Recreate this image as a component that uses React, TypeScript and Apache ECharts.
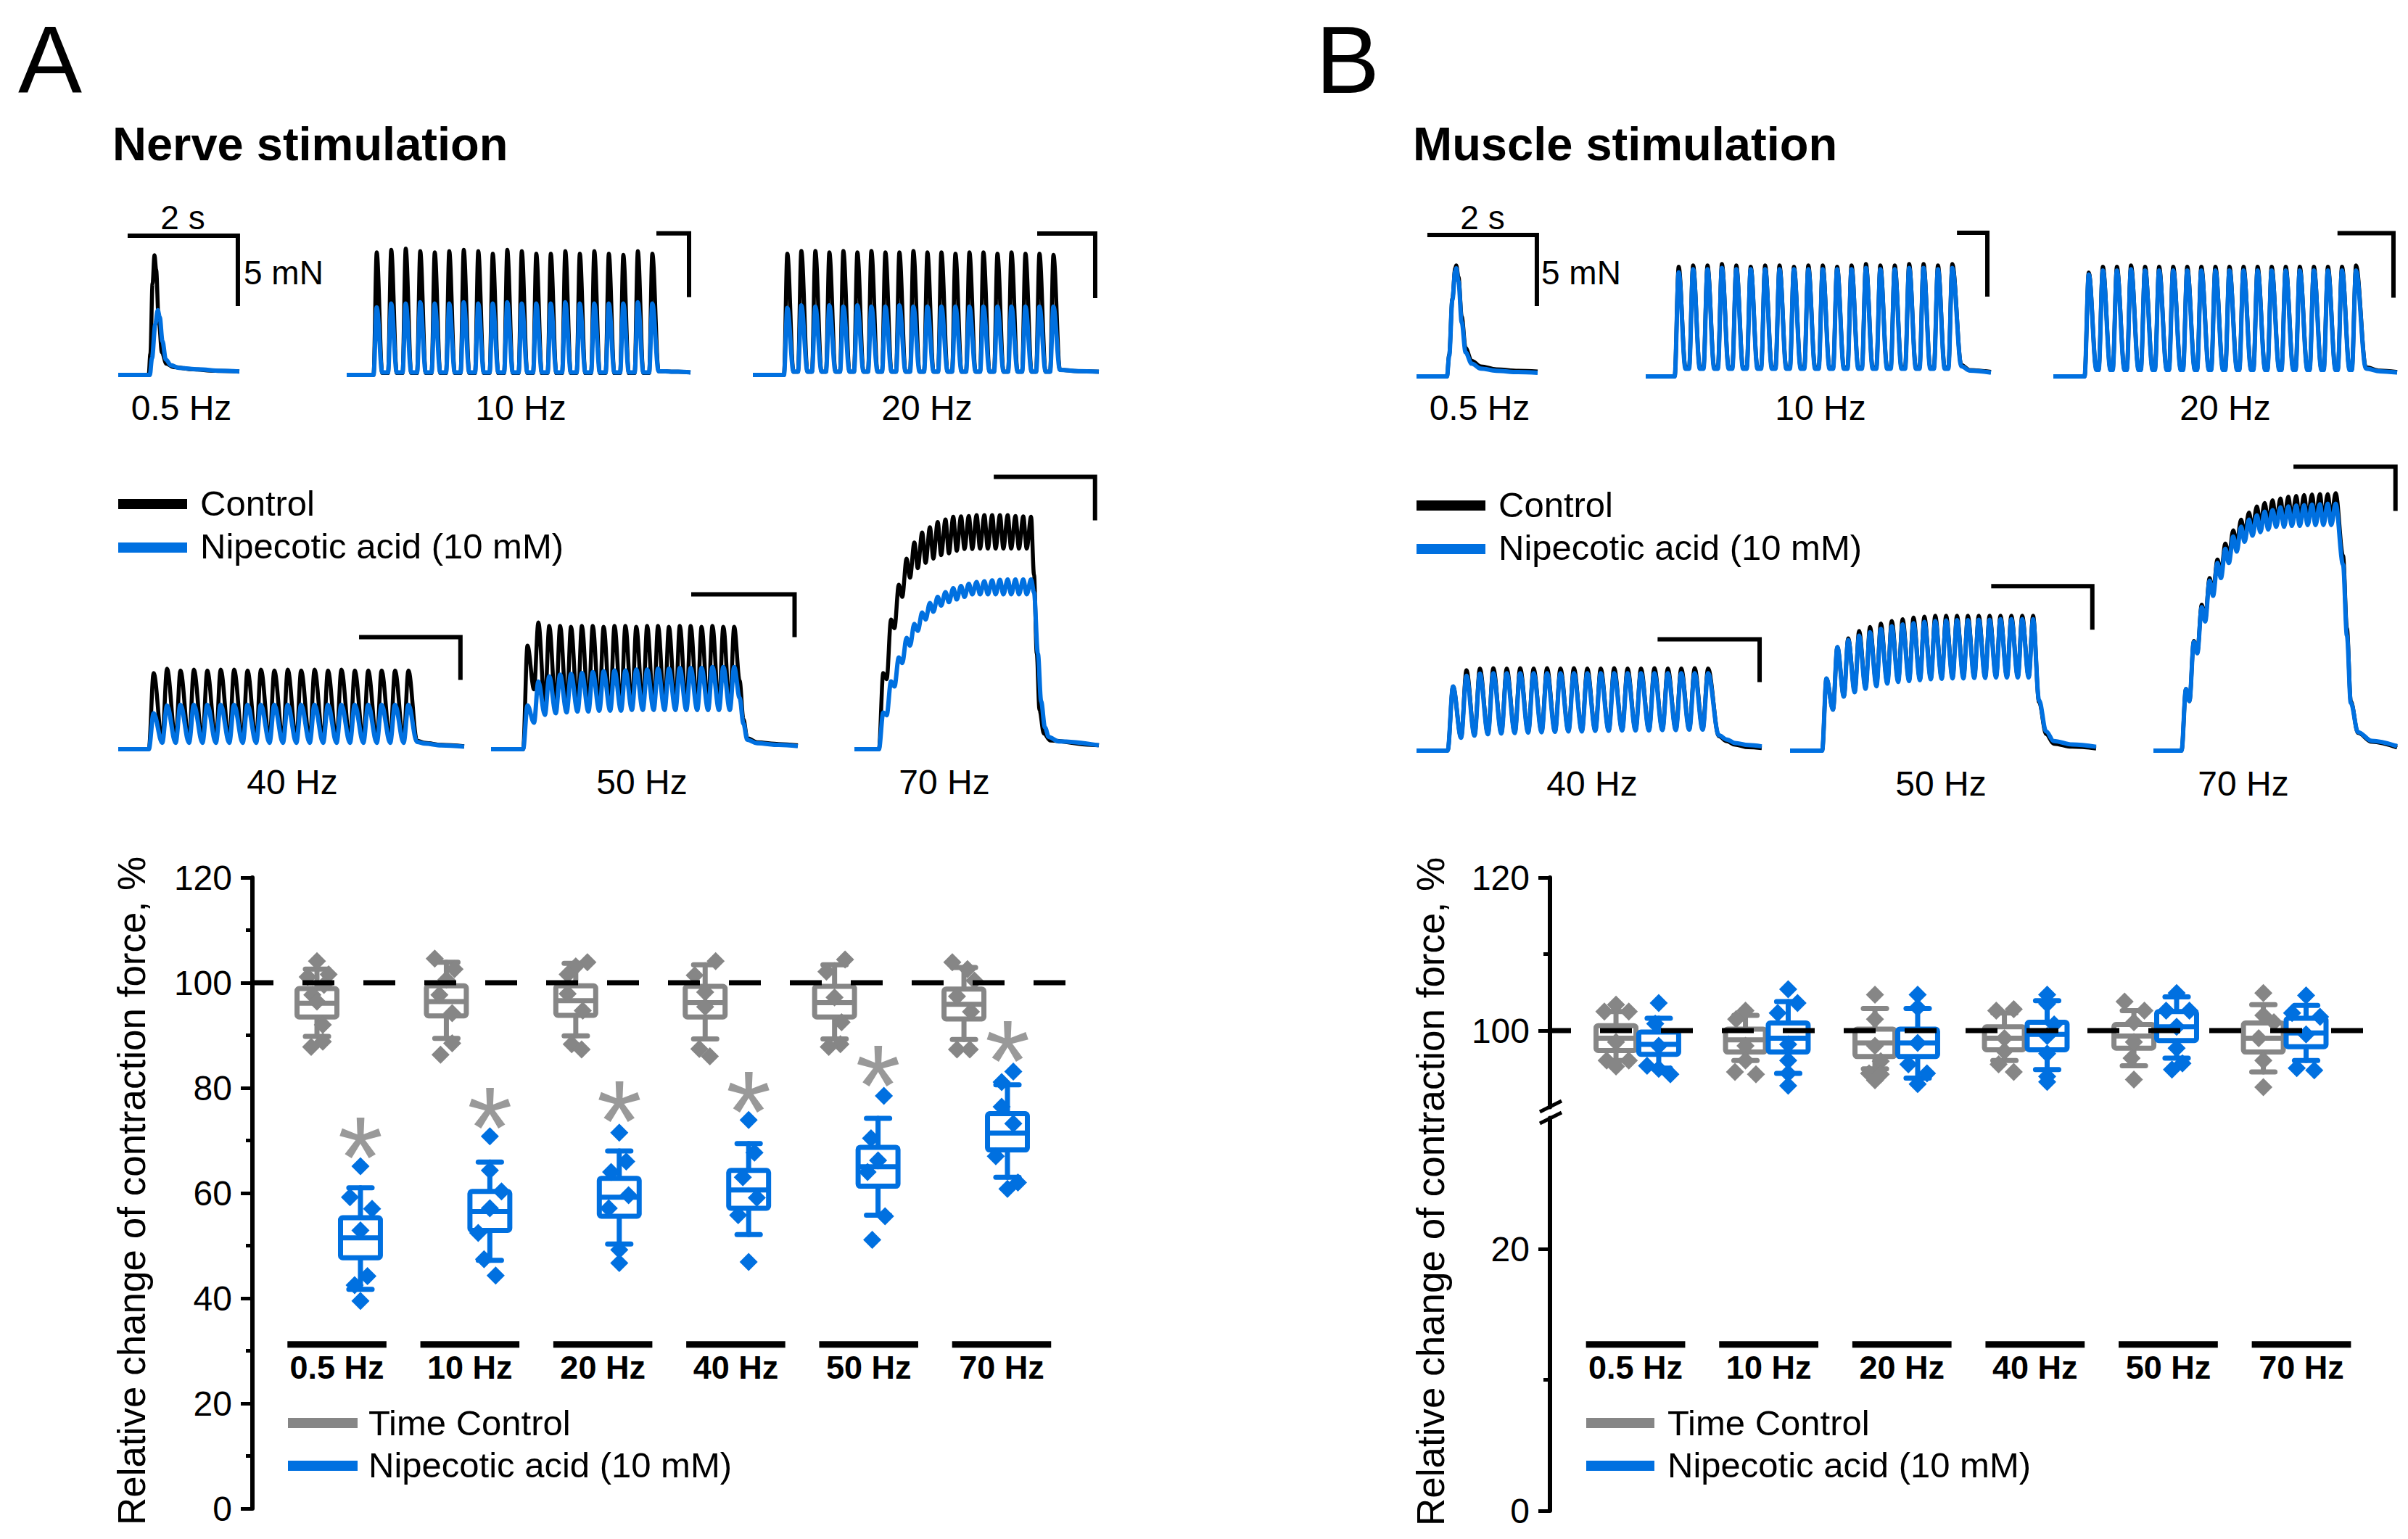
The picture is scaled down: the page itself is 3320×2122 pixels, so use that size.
import React, { useEffect, useRef } from 'react';
import * as echarts from 'echarts';

const FONT = '"Liberation Sans", Arial, Helvetica, sans-serif';
const BLACK = '#000000';
const GRAY = '#868686';
const BLUE = '#0070e0';

// ---------------- categories ----------------
const FREQS = ['0.5 Hz', '10 Hz', '20 Hz', '40 Hz', '50 Hz', '70 Hz'];
const SCALE_MN = 5; // vertical scale bar (mN)

// ---------------- Panel A traces (nerve stimulation) ----------------
// single twitch: [time ms, force mN]
const A05_CTRL = [[-553, 0], [0, 0], [30, 1.5], [70, 6.5], [105, 8.5], [135, 7.5], [180, 4.0], [240, 1.6], [320, 0.8], [450, 0.55], [800, 0.4], [1200, 0.3], [1645, 0.25]];
const A05_NIPE = [[-553, 0], [20, 0], [60, 1.2], [120, 3.6], [165, 4.6], [200, 4.1], [250, 2.4], [310, 1.1], [400, 0.7], [550, 0.5], [900, 0.4], [1300, 0.3], [1645, 0.25]];
const A05_BAR = [-382, 1618, 9.9];

// trains: kinetics [interval ms, time to peak ms, relax ms], per-pulse peaks / levels at stimulus
const A10_KIN = [100, 22, 60];
const A10_CTRL_PK = [9.6, 9.8, 9.9, 9.7, 9.6, 9.7, 9.8, 9.7, 9.5, 9.8, 9.7, 9.5, 9.5, 9.7, 9.5, 9.7, 9.5, 9.4, 9.7, 9.5];
const A10_CTRL_TR = [0, 0.15, 0.15, 0.15, 0.15, 0.15, 0.15, 0.15, 0.15, 0.15, 0.15, 0.15, 0.15, 0.15, 0.15, 0.15, 0.15, 0.15, 0.15, 0.15];
const A10_NIPE_PK = [5.3, 5.6, 5.6, 5.7, 5.6, 5.6, 5.7, 5.6, 5.6, 5.7, 5.6, 5.6, 5.6, 5.7, 5.6, 5.6, 5.6, 5.6, 5.7, 5.6];
const A10_NIPE_TR = [0, 0.2, 0.2, 0.2, 0.2, 0.2, 0.2, 0.2, 0.2, 0.2, 0.2, 0.2, 0.2, 0.2, 0.2, 0.2, 0.2, 0.2, 0.2, 0.2];
const A10_CTRL_END = [[1965, 0.3], [2100, 0.25], [2185, 0.2]];
const A10_NIPE_END = [[1965, 0.3], [2100, 0.25], [2185, 0.2]];
const A10_BAR = [1950, 2175, 11.1];

const A20_KIN = [50, 12, 34];
const A20_CTRL_PK = [9.4, 9.6, 9.6, 9.5, 9.6, 9.5, 9.6, 9.5, 9.5, 9.6, 9.5, 9.5, 9.4, 9.5, 9.5, 9.4, 9.5, 9.4, 9.4, 9.3];
const A20_CTRL_TR = [0, 0.25, 0.25, 0.25, 0.25, 0.25, 0.25, 0.25, 0.25, 0.25, 0.25, 0.25, 0.25, 0.25, 0.25, 0.25, 0.25, 0.25, 0.25, 0.25];
const A20_NIPE_PK = [5.2, 5.4, 5.3, 5.4, 5.3, 5.4, 5.3, 5.3, 5.4, 5.3, 5.3, 5.3, 5.3, 5.3, 5.3, 5.3, 5.3, 5.3, 5.3, 5.3];
const A20_NIPE_TR = [0, 0.25, 0.25, 0.25, 0.25, 0.25, 0.25, 0.25, 0.25, 0.25, 0.25, 0.25, 0.25, 0.25, 0.25, 0.25, 0.25, 0.25, 0.25, 0.25];
const A20_CTRL_END = [[985, 0.4], [1050, 0.3], [1124, 0.25]];
const A20_NIPE_END = [[985, 0.4], [1050, 0.3], [1124, 0.25]];
const A20_BAR = [904, 1111, 10.95];

const A40_KIN = [25, 9, 0];
const A40_CTRL_PK = [8.9, 9.4, 9.2, 9.3, 9.2, 9.3, 9.3, 9.2, 9.3, 9.2, 9.3, 9.2, 9.3, 9.2, 9.3, 9.2, 9.2, 9.2, 9.2, 9.2];
const A40_CTRL_TR = [0, 0.9, 0.9, 0.9, 0.9, 0.9, 0.9, 0.9, 0.9, 0.9, 0.9, 0.9, 0.9, 0.9, 0.9, 0.9, 0.9, 0.9, 0.9, 0.9];
const A40_NIPE_PK = [4.2, 5.1, 5.2, 5.2, 5.2, 5.2, 5.2, 5.2, 5.2, 5.2, 5.2, 5.2, 5.2, 5.2, 5.2, 5.2, 5.2, 5.2, 5.2, 5.2];
const A40_NIPE_TR = [0, 0.75, 0.75, 0.75, 0.75, 0.75, 0.75, 0.75, 0.75, 0.75, 0.75, 0.75, 0.75, 0.75, 0.75, 0.75, 0.75, 0.75, 0.75, 0.75];
const A40_CTRL_END = [[500, 1.0], [515, 0.75], [545, 0.5], [588, 0.35]];
const A40_NIPE_END = [[500, 0.85], [515, 0.65], [545, 0.45], [588, 0.3]];
const A40_BAR = [392, 581, 13.1];

const A50_KIN = [20, 8, 0];
const A50_CTRL_PK = [12.1, 14.8, 14.4, 14.4, 14.3, 14.4, 14.4, 14.3, 14.4, 14.4, 14.3, 14.4, 14.4, 14.3, 14.4, 14.4, 14.3, 14.4, 14.3, 14.3];
const A50_CTRL_TR = [0, 7.0, 4.9, 4.7, 4.6, 4.6, 4.6, 4.6, 4.6, 4.6, 4.6, 4.6, 4.6, 4.6, 4.6, 4.6, 4.6, 4.6, 4.6, 4.6];
const A50_NIPE_PK = [5.1, 7.9, 8.5, 8.7, 8.8, 8.9, 9.0, 9.1, 9.2, 9.2, 9.3, 9.3, 9.4, 9.4, 9.5, 9.5, 9.5, 9.6, 9.6, 9.6];
const A50_NIPE_TR = [0, 3.1, 4.0, 4.2, 4.3, 4.4, 4.4, 4.5, 4.5, 4.5, 4.6, 4.6, 4.6, 4.6, 4.6, 4.6, 4.6, 4.6, 4.6, 4.6];
const A50_CTRL_END = [[398, 8], [405, 3.5], [412, 1.3], [430, 0.8], [470, 0.6], [505, 0.45]];
const A50_NIPE_END = [[398, 6], [405, 3], [412, 1.1], [430, 0.7], [470, 0.5], [505, 0.35]];
const A50_BAR = [309, 499, 18.1];

const A70_KIN = [14.29, 8, 0];
const A70_CTRL_PK = [8.75, 14.9, 18.9, 21.9, 23.75, 24.9, 25.5, 26.1, 26.4, 26.7, 26.75, 26.8, 26.9, 26.9, 26.9, 26.9, 26.9, 26.8, 26.75, 26.7];
const A70_CTRL_TR = [0, 8.05, 13.9, 17.5, 19.7, 20.8, 21.4, 21.9, 22.3, 22.5, 22.8, 23.0, 23.0, 23.05, 23.05, 23.05, 23.05, 23.05, 23.05, 23.05];
const A70_NIPE_PK = [4.2, 7.8, 10.55, 12.8, 14.4, 15.7, 16.8, 17.5, 18.05, 18.5, 18.75, 19.0, 19.2, 19.3, 19.4, 19.45, 19.5, 19.5, 19.5, 19.5];
const A70_NIPE_TR = [0, 3.9, 7.2, 9.9, 11.9, 13.6, 14.9, 15.8, 16.5, 16.9, 17.2, 17.5, 17.8, 17.8, 17.8, 17.8, 17.8, 17.8, 17.8, 17.8];
const A70_CTRL_END = [[285, 20], [290, 11], [295, 4.5], [303, 1.8], [315, 1.0], [390, 0.5], [404, 0.45]];
const A70_NIPE_END = [[285, 18], [292, 11], [298, 5.5], [305, 2.5], [312, 1.4], [330, 0.9], [404, 0.45]];
const A70_BAR = [211, 397, 31.3];

// ---------------- Panel B traces (muscle stimulation) ----------------
const B05_CTRL = [[-556, 0], [0, 0], [40, 1.5], [100, 5.5], [150, 7.6], [170, 7.8], [210, 7.0], [270, 4.2], [340, 2.0], [450, 1.1], [620, 0.7], [900, 0.5], [1300, 0.4], [1656, 0.35]];
const B05_NIPE = [[-556, 0], [0, 0], [40, 1.4], [100, 5.4], [150, 7.4], [170, 7.6], [210, 6.7], [270, 3.8], [340, 1.7], [450, 0.9], [620, 0.55], [900, 0.4], [1300, 0.3], [1656, 0.25]];
const B05_BAR = [-358, 1642, 9.95];

const B10_KIN = [100, 28, 75];
const B10_CTRL_PK = [8.6, 8.7, 8.7, 8.8, 8.7, 8.6, 8.7, 8.7, 8.6, 8.7, 8.7, 8.6, 8.7, 8.8, 8.7, 8.7, 8.8, 8.8, 8.7, 8.8];
const B10_CTRL_TR = [0, 0.7, 0.7, 0.7, 0.7, 0.7, 0.7, 0.7, 0.7, 0.7, 0.7, 0.7, 0.7, 0.7, 0.7, 0.7, 0.7, 0.7, 0.7, 0.7];
const B10_NIPE_PK = [8.15, 8.4, 8.4, 8.5, 8.4, 8.4, 8.4, 8.4, 8.4, 8.4, 8.4, 8.4, 8.4, 8.5, 8.4, 8.4, 8.5, 8.5, 8.4, 8.5];
const B10_NIPE_TR = [0, 0.6, 0.6, 0.6, 0.6, 0.6, 0.6, 0.6, 0.6, 0.6, 0.6, 0.6, 0.6, 0.6, 0.6, 0.6, 0.6, 0.6, 0.6, 0.6];
const B10_CTRL_END = [[1990, 0.9], [2050, 0.5], [2196, 0.35]];
const B10_NIPE_END = [[1990, 0.8], [2050, 0.45], [2196, 0.3]];
const B10_BAR = [1960, 2171, 11.25];

const B20_KIN = [50, 15, 42];
const B20_CTRL_PK = [8.05, 8.5, 8.5, 8.6, 8.5, 8.5, 8.5, 8.5, 8.5, 8.5, 8.5, 8.5, 8.5, 8.5, 8.5, 8.5, 8.5, 8.5, 8.5, 8.6];
const B20_CTRL_TR = [0, 0.55, 0.55, 0.55, 0.55, 0.55, 0.55, 0.55, 0.55, 0.55, 0.55, 0.55, 0.55, 0.55, 0.55, 0.55, 0.55, 0.55, 0.55, 0.55];
const B20_NIPE_PK = [7.9, 8.2, 8.2, 8.3, 8.2, 8.2, 8.2, 8.2, 8.2, 8.2, 8.2, 8.2, 8.2, 8.2, 8.2, 8.2, 8.2, 8.2, 8.2, 8.2];
const B20_NIPE_TR = [0, 0.5, 0.5, 0.5, 0.5, 0.5, 0.5, 0.5, 0.5, 0.5, 0.5, 0.5, 0.5, 0.5, 0.5, 0.5, 0.5, 0.5, 0.5, 0.5];
const B20_CTRL_END = [[1000, 0.7], [1050, 0.45], [1111, 0.35]];
const B20_NIPE_END = [[1000, 0.6], [1050, 0.4], [1111, 0.3]];
const B20_BAR = [899, 1098, 11.1];

const B40_KIN = [25, 10, 0];
const B40_CTRL_PK = [7.5, 9.4, 9.6, 9.65, 9.6, 9.65, 9.6, 9.65, 9.6, 9.65, 9.6, 9.6, 9.65, 9.6, 9.6, 9.65, 9.6, 9.6, 9.65, 9.6];
const B40_CTRL_TR = [0, 1.55, 1.8, 1.95, 2.05, 2.1, 2.15, 2.2, 2.25, 2.3, 2.3, 2.35, 2.35, 2.4, 2.4, 2.4, 2.45, 2.45, 2.5, 2.5];
const B40_NIPE_PK = [7.5, 8.75, 9.0, 9.05, 9.05, 9.05, 9.05, 9.05, 9.05, 9.05, 9.05, 9.05, 9.05, 9.05, 9.05, 9.05, 9.05, 9.05, 9.05, 9.05];
const B40_NIPE_TR = [0, 1.5, 1.75, 1.9, 2.0, 2.05, 2.1, 2.15, 2.2, 2.25, 2.25, 2.3, 2.3, 2.35, 2.35, 2.35, 2.4, 2.4, 2.45, 2.45];
const B40_CTRL_END = [[505, 1.7], [520, 1.1], [535, 0.7], [560, 0.4], [585, 0.3]];
const B40_NIPE_END = [[505, 1.8], [520, 1.3], [535, 0.9], [560, 0.65], [585, 0.5]];
const B40_BAR = [391, 581, 13.0];

const B50_KIN = [20, 8, 0];
const B50_CTRL_PK = [8.3, 11.9, 12.9, 13.75, 14.2, 14.6, 14.9, 15.1, 15.3, 15.4, 15.5, 15.5, 15.5, 15.5, 15.5, 15.5, 15.5, 15.5, 15.5, 15.5];
const B50_CTRL_TR = [0, 4.7, 6.25, 6.8, 7.2, 7.5, 7.8, 8.0, 8.1, 8.2, 8.3, 8.35, 8.4, 8.4, 8.45, 8.45, 8.5, 8.5, 8.5, 8.5];
const B50_NIPE_PK = [8.3, 11.9, 12.7, 13.2, 13.6, 14.0, 14.3, 14.5, 14.65, 14.8, 14.9, 14.95, 15.0, 15.0, 15.05, 15.05, 15.1, 15.1, 15.1, 15.1];
const B50_NIPE_TR = [0, 4.7, 6.2, 6.7, 7.1, 7.4, 7.7, 7.9, 8.0, 8.1, 8.2, 8.25, 8.3, 8.3, 8.35, 8.35, 8.4, 8.4, 8.4, 8.4];
const B50_CTRL_END = [[399, 5.6], [412, 1.9], [426, 0.8], [460, 0.45], [504, 0.25]];
const B50_NIPE_END = [[399, 5.8], [412, 2.2], [426, 1.1], [460, 0.7], [504, 0.45]];
const B50_BAR = [311, 497, 18.9];

const B70_KIN = [14.29, 8, 0];
const B70_CTRL_PK = [6.97, 12.4, 16.5, 19.5, 21.6, 23.4, 24.9, 26.1, 26.9, 27.6, 28.0, 28.3, 28.5, 28.7, 28.8, 28.9, 28.96, 29.0, 29.0, 29.1];
const B70_CTRL_TR = [0, 5.6, 11.1, 14.9, 17.9, 20.1, 22.0, 23.4, 24.5, 25.1, 25.6, 25.8, 25.9, 26.0, 26.1, 26.1, 26.2, 26.2, 26.2, 26.3];
const B70_NIPE_PK = [6.97, 12.3, 16.2, 19.2, 21.2, 22.8, 24.2, 25.3, 26.1, 26.6, 27.0, 27.2, 27.5, 27.6, 27.7, 27.75, 27.8, 27.85, 27.9, 27.9];
const B70_NIPE_TR = [0, 5.6, 11.0, 14.6, 17.5, 19.5, 21.2, 22.5, 23.6, 24.3, 24.7, 25.0, 25.3, 25.3, 25.4, 25.4, 25.5, 25.5, 25.5, 25.5];
const B70_CTRL_END = [[293, 22], [300, 13.8], [307, 5.6], [320, 2.0], [345, 1.0], [391, 0.35]];
const B70_NIPE_END = [[293, 21], [300, 13], [307, 5.4], [320, 2.1], [345, 1.1], [391, 0.5]];
const B70_BAR = [203, 388, 32.1];

// ---------------- Box plot data: [lower whisker, Q1, median, Q3, upper whisker] ----------------
const A_TC_STATS = [[89.8, 93.5, 96.1, 98.9, 102.6], [89.4, 93.7, 96.4, 99.4, 103.9], [89.9, 93.8, 96.6, 99.4, 103.7], [89.3, 93.5, 96.2, 99.3, 103.4], [89.3, 93.5, 96.2, 99.3, 103.4], [89.2, 93.1, 95.9, 98.8, 102.9]];
const A_NA_STATS = [[41.7, 47.7, 51.5, 55.3, 61.0], [47.2, 52.9, 56.5, 60.3, 65.9], [50.3, 55.6, 59.2, 62.8, 68.0], [52.1, 57.1, 60.6, 64.3, 69.4], [55.8, 61.3, 65.0, 68.7, 74.2], [63.0, 68.2, 71.4, 75.1, 80.6]];
// individual values: [value, swarm column]
const A_TC_PTS = [
  [[104.1, 0], [101.6, 1], [101.1, -0.8], [99.6, 0.6], [97.7, -0.4], [96.4, 0], [92.0, 0.5], [88.8, 0.5], [87.8, -0.5]],
  [[104.6, -1], [102.6, 0.7], [100.6, 0], [97.7, -0.6], [94.2, 0.5], [88.5, 0.5], [86.3, -0.5]],
  [[103.9, 1], [103.1, 0], [101.6, -0.7], [97.9, -0.7], [94.7, 0.6], [88.3, -0.35], [87.3, 0.5]],
  [[104.1, 0.9], [101.4, -0.9], [98.2, 0], [95.4, 0], [87.4, -0.5], [86.0, 0.4]],
  [[104.4, 0.9], [102.1, -0.7], [97.2, 0], [92.5, 0.6], [88.3, 0.5], [87.8, -0.5]],
  [[103.9, -1], [102.6, 0.3], [100.4, 0.9], [97.4, -0.6], [94.5, 0.6], [87.3, -0.6], [87.3, 0.5]],
];
const A_NA_PTS = [
  [[65.1, 0], [59.2, -0.9], [57.0, 1], [52.9, 0], [44.2, 0.6], [42.5, -0.5], [39.5, 0]],
  [[70.8, 0], [64.3, 0], [60.3, 1], [57.1, 0], [52.4, -1], [47.4, -0.5], [44.3, 0.5]],
  [[71.5, 0], [66.0, 0.6], [64.0, -0.7], [59.6, 0.8], [57.1, -0.9], [49.2, 0], [46.7, 0]],
  [[73.9, 0], [67.7, 0.5], [63.0, -0.5], [59.1, 0.7], [55.8, -0.9], [46.9, 0]],
  [[78.5, 0.5], [70.4, -0.6], [66.2, 0], [64.0, -0.9], [55.6, 0.6], [51.1, -0.5]],
  [[83.1, 0.5], [81.1, -0.5], [76.4, -0.5], [73.2, 0.5], [67.0, -1], [62.0, 0.9], [60.8, 0]],
];
const A_SIG = [70.9, 76.6, 77.9, 79.6, 84.6, 89.3];

const B_TC_STATS = [[96.1, 97.4, 99.0, 100.65, 102.5], [96.1, 97.2, 98.8, 100.2, 102.0], [95.0, 96.6, 98.4, 100.2, 102.9], [96.1, 97.5, 99.0, 100.5, 102.3], [95.4, 97.7, 99.3, 100.8, 102.6], [94.6, 97.2, 99.0, 101.0, 103.4]];
const B_NA_STATS = [[95.1, 96.9, 98.2, 99.8, 101.6], [94.4, 97.2, 99.0, 101.0, 103.8], [93.8, 96.6, 98.4, 100.2, 102.9], [94.9, 97.5, 99.5, 101.1, 103.9], [96.4, 98.7, 100.5, 102.5, 104.4], [96.1, 97.9, 99.7, 101.6, 103.3]];
const B_TC_PTS = [
  [[103.4, 0], [102.5, -1], [102.5, 1.1], [98.5, 0], [96.1, -0.8], [96.1, 1.1], [95.3, 0]],
  [[102.6, 0], [101.5, -0.8], [98.0, 0], [96.1, 0], [94.6, -0.9], [94.3, 0.9]],
  [[104.7, 0], [101.5, 0], [98.0, 0], [96.0, 0.5], [94.4, -0.5], [94.3, 0.5], [93.5, 0]],
  [[102.8, 0.8], [102.6, -0.7], [99.0, 0], [97.3, 0], [95.6, -0.5], [94.6, 0.8]],
  [[103.8, -0.8], [102.6, 0.9], [101.1, 0], [98.5, 0], [96.4, -0.2], [93.6, 0]],
  [[104.9, 0], [102.0, 0], [101.1, 0.9], [99.0, -0.4], [96.1, 0], [92.6, 0]],
];
const B_NA_PTS = [
  [[103.6, 0], [100.9, -0.3], [98.0, 0], [95.4, -1], [95.0, 0], [94.3, 1]],
  [[105.4, 0], [103.6, 0.8], [102.3, -0.9], [98.2, 0], [96.1, 0], [94.4, 0], [92.8, 0]],
  [[104.7, 0], [103.0, 0], [98.4, 0], [95.6, -0.8], [94.4, 0.8], [93.0, 0]],
  [[104.7, 0], [103.5, 0], [100.8, 0.6], [99.3, 0], [97.0, 0], [94.0, 0], [93.3, 0]],
  [[104.9, 0], [102.6, -0.9], [102.6, 1.1], [100.5, 0], [97.7, 0], [95.7, 0.5], [94.9, -0.4]],
  [[104.6, 0], [102.3, -1.2], [101.8, 1.2], [99.5, 0], [95.1, -0.8], [94.8, 0.7]],
];

const A_Y_TICKS = [0, 120, 20];
const B_Y_UPPER = [90, 120];
const B_Y_LOWER = [0, 30];
const REF_LEVEL = 100;

// ---------------- layout (px) ----------------
const TRACE_LAYOUT = [
  { left: 163, right: 330, base: 517, ppm: 19.4, tMin: -553, tMax: 1645, yMax: 10.4, label: [250, 562] },
  { left: 478, right: 952, base: 517, ppm: 17.6, tMin: -185, tMax: 2185, yMax: 11.6, label: [718, 562] },
  { left: 1038, right: 1515, base: 517, ppm: 17.8, tMin: -111, tMax: 1124, yMax: 11.4, label: [1278, 562] },
  { left: 163, right: 640, base: 1033, ppm: 11.8, tMin: -57, tMax: 588, yMax: 13.6, label: [403, 1078] },
  { left: 677, right: 1100, base: 1033, ppm: 11.8, tMin: -59, tMax: 505, yMax: 18.6, label: [885, 1078] },
  { left: 1178, right: 1515, base: 1033, ppm: 12, tMin: -45, tMax: 404, yMax: 31.8, label: [1302, 1078] },
  { left: 1953, right: 2120, base: 519, ppm: 19.6, tMin: -556, tMax: 1656, yMax: 10.4, label: [2040, 562] },
  { left: 2269, right: 2745, base: 519, ppm: 17.6, tMin: -201, tMax: 2196, yMax: 11.7, label: [2510, 562] },
  { left: 2831, right: 3305, base: 519, ppm: 17.8, tMin: -111, tMax: 1111, yMax: 11.6, label: [3068, 562] },
  { left: 1953, right: 2429, base: 1035, ppm: 11.8, tMin: -58, tMax: 585, yMax: 13.5, label: [2195, 1080] },
  { left: 2468, right: 2890, base: 1035, ppm: 12, tMin: -59, tMax: 504, yMax: 19.4, label: [2676, 1080] },
  { left: 2969, right: 3305, base: 1035, ppm: 12.2, tMin: -51, tMax: 391, yMax: 32.6, label: [3093, 1080] },
];

function buildTrain(kin: number[], peaks: number[], levels: number[], end: number[][], tStart: number) {
  const [interval, rise, relax] = kin;
  const pts: number[][] = [[tStart, 0]];
  for (let k = 0; k < peaks.length; k++) {
    const t0 = k * interval;
    pts.push([t0, levels[k]]);
    pts.push([t0 + rise, peaks[k]]);
    if (relax && k < peaks.length - 1) pts.push([t0 + relax, levels[k + 1]]);
  }
  end.forEach((p) => pts.push(p));
  return pts;
}

function makeTraces() {
  const L = TRACE_LAYOUT;
  return [
    { ctrl: A05_CTRL, nipe: A05_NIPE, bar: A05_BAR },
    { ctrl: buildTrain(A10_KIN, A10_CTRL_PK, A10_CTRL_TR, A10_CTRL_END, L[1].tMin), nipe: buildTrain(A10_KIN, A10_NIPE_PK, A10_NIPE_TR, A10_NIPE_END, L[1].tMin), bar: A10_BAR },
    { ctrl: buildTrain(A20_KIN, A20_CTRL_PK, A20_CTRL_TR, A20_CTRL_END, L[2].tMin), nipe: buildTrain(A20_KIN, A20_NIPE_PK, A20_NIPE_TR, A20_NIPE_END, L[2].tMin), bar: A20_BAR },
    { ctrl: buildTrain(A40_KIN, A40_CTRL_PK, A40_CTRL_TR, A40_CTRL_END, L[3].tMin), nipe: buildTrain(A40_KIN, A40_NIPE_PK, A40_NIPE_TR, A40_NIPE_END, L[3].tMin), bar: A40_BAR },
    { ctrl: buildTrain(A50_KIN, A50_CTRL_PK, A50_CTRL_TR, A50_CTRL_END, L[4].tMin), nipe: buildTrain(A50_KIN, A50_NIPE_PK, A50_NIPE_TR, A50_NIPE_END, L[4].tMin), bar: A50_BAR },
    { ctrl: buildTrain(A70_KIN, A70_CTRL_PK, A70_CTRL_TR, A70_CTRL_END, L[5].tMin), nipe: buildTrain(A70_KIN, A70_NIPE_PK, A70_NIPE_TR, A70_NIPE_END, L[5].tMin), bar: A70_BAR },
    { ctrl: B05_CTRL, nipe: B05_NIPE, bar: B05_BAR },
    { ctrl: buildTrain(B10_KIN, B10_CTRL_PK, B10_CTRL_TR, B10_CTRL_END, L[7].tMin), nipe: buildTrain(B10_KIN, B10_NIPE_PK, B10_NIPE_TR, B10_NIPE_END, L[7].tMin), bar: B10_BAR },
    { ctrl: buildTrain(B20_KIN, B20_CTRL_PK, B20_CTRL_TR, B20_CTRL_END, L[8].tMin), nipe: buildTrain(B20_KIN, B20_NIPE_PK, B20_NIPE_TR, B20_NIPE_END, L[8].tMin), bar: B20_BAR },
    { ctrl: buildTrain(B40_KIN, B40_CTRL_PK, B40_CTRL_TR, B40_CTRL_END, L[9].tMin), nipe: buildTrain(B40_KIN, B40_NIPE_PK, B40_NIPE_TR, B40_NIPE_END, L[9].tMin), bar: B40_BAR },
    { ctrl: buildTrain(B50_KIN, B50_CTRL_PK, B50_CTRL_TR, B50_CTRL_END, L[10].tMin), nipe: buildTrain(B50_KIN, B50_NIPE_PK, B50_NIPE_TR, B50_NIPE_END, L[10].tMin), bar: B50_BAR },
    { ctrl: buildTrain(B70_KIN, B70_CTRL_PK, B70_CTRL_TR, B70_CTRL_END, L[11].tMin), nipe: buildTrain(B70_KIN, B70_NIPE_PK, B70_NIPE_TR, B70_NIPE_END, L[11].tMin), bar: B70_BAR },
  ];
}

const BOX_W = 0.308;
const CAP_W = 0.18;
const JIT = 0.09;

function makeBoxRender(color: string) {
  return (params: any, api: any) => {
    const x = api.value(0);
    const lo = api.coord([x, api.value(1)]);
    const q1 = api.coord([x, api.value(2)]);
    const md = api.coord([x, api.value(3)]);
    const q3 = api.coord([x, api.value(4)]);
    const hi = api.coord([x, api.value(5)]);
    const bw = api.size([BOX_W, 0])[0];
    const cw = api.size([CAP_W, 0])[0];
    const cx = md[0];
    const ls = { stroke: color, lineWidth: 7, lineCap: 'round' };
    return {
      type: 'group',
      children: [
        { type: 'line', shape: { x1: cx, y1: lo[1], x2: cx, y2: q1[1] }, style: ls },
        { type: 'line', shape: { x1: cx, y1: q3[1], x2: cx, y2: hi[1] }, style: ls },
        { type: 'line', shape: { x1: cx - cw / 2, y1: lo[1], x2: cx + cw / 2, y2: lo[1] }, style: ls },
        { type: 'line', shape: { x1: cx - cw / 2, y1: hi[1], x2: cx + cw / 2, y2: hi[1] }, style: ls },
        { type: 'rect', shape: { x: cx - bw / 2, y: q3[1], width: bw, height: q1[1] - q3[1], r: 3 }, style: { fill: '#ffffff', stroke: color, lineWidth: 7 } },
        { type: 'line', shape: { x1: cx - bw / 2, y1: md[1], x2: cx + bw / 2, y2: md[1] }, style: { stroke: color, lineWidth: 7 } },
      ],
    };
  };
}

function renderCatBar(params: any, api: any) {
  const p = api.coord([api.value(0), api.value(1)]);
  const w = api.size([0.745, 0])[0];
  return {
    type: 'group',
    children: [
      { type: 'rect', shape: { x: p[0] - w / 2, y: p[1] - 4.5, width: w, height: 9 }, style: { fill: BLACK } },
      { type: 'text', x: p[0], y: p[1] + 32, style: { text: FREQS[params.dataIndex], fontSize: 45, fontWeight: 'bold', fontFamily: FONT, fill: BLACK, align: 'center', verticalAlign: 'middle' } },
    ],
  };
}

function txt(x: number, y: number, text: string, fontSize: number, extra: any = {}) {
  return {
    type: 'text', x, y, silent: true, rotation: extra.rotation || 0,
    style: { text, fontSize, fontFamily: FONT, fontWeight: extra.bold ? 'bold' : 'normal', fill: BLACK, align: extra.align || 'left', verticalAlign: 'middle' },
  };
}
function seg(x1: number, y1: number, x2: number, y2: number, color: string, w: number) {
  return { type: 'line', silent: true, shape: { x1, y1, x2, y2 }, style: { stroke: color, lineWidth: w } };
}

function buildOption() {
  const grid: any[] = [], xAxis: any[] = [], yAxis: any[] = [], series: any[] = [], graphic: any[] = [];
  const traces = makeTraces();
  traces.forEach((tr, i) => {
    const L = TRACE_LAYOUT[i];
    grid.push({ left: L.left, top: L.base - L.yMax * L.ppm, width: L.right - L.left, height: (L.yMax + 0.6) * L.ppm });
    xAxis.push({ gridIndex: i, type: 'value', min: L.tMin, max: L.tMax, show: false });
    yAxis.push({ gridIndex: i, type: 'value', min: -0.6, max: L.yMax, show: false });
    const common = { type: 'line', xAxisIndex: i, yAxisIndex: i, showSymbol: false, symbol: 'none', clip: false, silent: true, smooth: 0.35, smoothMonotone: 'x' };
    series.push({ ...common, data: tr.ctrl, lineStyle: { color: BLACK, width: 5.5 }, z: 2 });
    series.push({ ...common, data: tr.nipe, lineStyle: { color: BLUE, width: 6 }, z: 3 });
    const [b0, b1, top] = tr.bar;
    series.push({ type: 'line', xAxisIndex: i, yAxisIndex: i, symbol: 'none', clip: false, silent: true, data: [[b0, top], [b1, top], [b1, top - SCALE_MN]], lineStyle: { color: BLACK, width: 6, join: 'miter', cap: 'butt' }, z: 4 });
    graphic.push(txt(L.label[0], L.label[1], FREQS[i % 6], 48, { align: 'center' }));
  });

  // ---- box plot grids ----
  const tickStyle = { color: BLACK, width: 5 };
  const axisCommon = {
    type: 'value', position: 'left', offset: 0,
    axisLine: { show: true, onZero: false, lineStyle: { color: BLACK, width: 6 } },
    axisTick: { show: true, length: 16, lineStyle: tickStyle },
    axisLabel: { fontSize: 48, color: BLACK, fontFamily: FONT, margin: 28 },
    splitLine: { show: false },
  };
  const minorAxis = {
    type: 'value', position: 'left', offset: 0,
    axisLine: { show: false, onZero: false },
    axisLabel: { show: false },
    splitLine: { show: false },
  };
  // A (grid 12)
  grid.push({ left: 348, top: 1210, width: 1127, height: 870 });
  xAxis.push({ gridIndex: 12, type: 'value', min: -0.667, max: 5.65, show: false });
  xAxis.push({ gridIndex: 12, type: 'value', min: -0.636, max: 5.513, show: false });
  yAxis.push({ ...axisCommon, gridIndex: 12, min: A_Y_TICKS[0], max: A_Y_TICKS[1], interval: A_Y_TICKS[2], minorTick: { show: true, splitNumber: 2, length: 9, lineStyle: tickStyle }, minorSplitLine: { show: false } });
  // B upper (grid 13) and lower (grid 14)
  grid.push({ left: 2137, top: 1210, width: 1128, height: 316.5 });
  grid.push({ left: 2137, top: 1541.5, width: 1128, height: 541.5 });
  xAxis.push({ gridIndex: 13, type: 'value', min: -0.675, max: 5.644, show: false });
  xAxis.push({ gridIndex: 14, type: 'value', min: -0.643, max: 5.501, show: false });
  yAxis.push({ ...axisCommon, gridIndex: 13, min: B_Y_UPPER[0], max: B_Y_UPPER[1], interval: 10, axisTick: { ...axisCommon.axisTick, customValues: [100, 120] }, axisLabel: { ...axisCommon.axisLabel, customValues: [100, 120] } });
  yAxis.push({ ...minorAxis, gridIndex: 13, min: B_Y_UPPER[0], max: B_Y_UPPER[1], interval: 10, axisTick: { show: true, length: 9, lineStyle: tickStyle, customValues: [110] } });
  yAxis.push({ ...axisCommon, gridIndex: 14, min: B_Y_LOWER[0], max: B_Y_LOWER[1], interval: 10, axisTick: { ...axisCommon.axisTick, customValues: [0, 20] }, axisLabel: { ...axisCommon.axisLabel, customValues: [0, 20] } });
  yAxis.push({ ...minorAxis, gridIndex: 14, min: B_Y_LOWER[0], max: B_Y_LOWER[1], interval: 10, axisTick: { show: true, length: 9, lineStyle: tickStyle, customValues: [10] } });

  const addPanel = (bx: number, cx: number, by: number, cy: number, off: number, tcS: number[][], naS: number[][], tcP: number[][][], naP: number[][][], xMin: number, xMax: number, barLevel: number) => {
    series.push({ type: 'custom', xAxisIndex: bx, yAxisIndex: by, renderItem: makeBoxRender(GRAY), data: tcS.map((s, g) => [g - off, ...s]), z: 2, silent: true, clip: false });
    series.push({ type: 'custom', xAxisIndex: bx, yAxisIndex: by, renderItem: makeBoxRender(BLUE), data: naS.map((s, g) => [g + off, ...s]), z: 2, silent: true, clip: false });
    const pts = (P: number[][][], o: number) => P.flatMap((grp, g) => grp.map(([v, c]) => [g + o + c * JIT, v]));
    series.push({ type: 'scatter', xAxisIndex: bx, yAxisIndex: by, symbol: 'diamond', symbolSize: 25, itemStyle: { color: GRAY, opacity: 1 }, data: pts(tcP, -off), z: 3, silent: true, clip: false });
    series.push({ type: 'scatter', xAxisIndex: bx, yAxisIndex: by, symbol: 'diamond', symbolSize: 25, itemStyle: { color: BLUE, opacity: 1 }, data: pts(naP, off), z: 3, silent: true, clip: false });
    series.push({ type: 'line', xAxisIndex: bx, yAxisIndex: by, symbol: 'none', silent: true, data: [[xMin, REF_LEVEL], [xMax, REF_LEVEL]], lineStyle: { color: BLACK, width: 7, type: [44, 40], dashOffset: 15 }, z: 5 });
    series.push({ type: 'custom', xAxisIndex: cx, yAxisIndex: cy, renderItem: renderCatBar, data: FREQS.map((f, k) => [k, barLevel]), z: 2, silent: true, clip: false });
  };
  addPanel(12, 13, 12, 12, 0.168, A_TC_STATS, A_NA_STATS, A_TC_PTS, A_NA_PTS, -0.667, 5.65, 31.2);
  addPanel(14, 15, 13, 15, 0.165, B_TC_STATS, B_NA_STATS, B_TC_PTS, B_NA_PTS, -0.675, 5.644, 12.7);

  // significance asterisks (panel A)
  series.push({
    type: 'scatter', xAxisIndex: 12, yAxisIndex: 12, symbol: 'circle', symbolSize: 2, itemStyle: { color: 'rgba(0,0,0,0)' }, silent: true, z: 6,
    data: A_SIG.map((v, g) => [g + 0.168, v]),
    label: { show: true, position: 'inside', formatter: '*', fontSize: 160, fontWeight: 'normal', color: '#7f7f7f', fontFamily: FONT, offset: [0, 30] },
  });

  // ---- texts & decorations ----
  graphic.push(txt(25, 82, 'A', 132));
  graphic.push(txt(1814, 82, 'B', 132));
  graphic.push(txt(155, 198, 'Nerve stimulation', 65, { bold: true }));
  graphic.push(txt(1948, 198, 'Muscle stimulation', 65, { bold: true }));
  graphic.push(txt(252, 300, '2 s', 46, { align: 'center' }));
  graphic.push(txt(336, 376, '5 mN', 46));
  graphic.push(txt(2044, 300, '2 s', 46, { align: 'center' }));
  graphic.push(txt(2125, 376, '5 mN', 46));
  // trace legends
  graphic.push(seg(163, 695, 258, 695, BLACK, 14));
  graphic.push(txt(276, 694, 'Control', 49));
  graphic.push(seg(163, 755, 258, 755, BLUE, 14));
  graphic.push(txt(276, 753, 'Nipecotic acid (10 mM)', 49));
  graphic.push(seg(1953, 697, 2048, 697, BLACK, 14));
  graphic.push(txt(2066, 696, 'Control', 49));
  graphic.push(seg(1953, 757, 2048, 757, BLUE, 14));
  graphic.push(txt(2066, 755, 'Nipecotic acid (10 mM)', 49));
  // box plot legends
  graphic.push(seg(397, 1962, 493, 1962, GRAY, 14));
  graphic.push(txt(508, 1962, 'Time Control', 49));
  graphic.push(seg(397, 2021, 493, 2021, BLUE, 14));
  graphic.push(txt(508, 2020, 'Nipecotic acid (10 mM)', 49));
  graphic.push(seg(2187, 1962, 2281, 1962, GRAY, 14));
  graphic.push(txt(2299, 1962, 'Time Control', 49));
  graphic.push(seg(2187, 2021, 2281, 2021, BLUE, 14));
  graphic.push(txt(2299, 2020, 'Nipecotic acid (10 mM)', 49));
  // y-axis titles
  graphic.push(txt(181, 1642, 'Relative change of contraction force, %', 53, { align: 'center', rotation: Math.PI / 2 }));
  graphic.push(txt(1972, 1643, 'Relative change of contraction force, %', 53, { align: 'center', rotation: Math.PI / 2 }));
  // axis break marks
  graphic.push(seg(2123, 1533, 2153, 1518, BLACK, 5));
  graphic.push(seg(2123, 1549, 2153, 1534, BLACK, 5));

  return { animation: false, backgroundColor: '#ffffff', grid, xAxis, yAxis, series, graphic };
}

export default function App() {
  const ref = useRef<HTMLDivElement>(null);
  useEffect(() => {
    const chart = echarts.init(ref.current as HTMLDivElement, null, { renderer: 'svg', width: 3320, height: 2122 });
    chart.setOption(buildOption() as any);
    return () => chart.dispose();
  }, []);
  return <div ref={ref} style={{ position: 'absolute', left: 0, top: 0, width: 3320, height: 2122, background: '#fff' }} />;
}
